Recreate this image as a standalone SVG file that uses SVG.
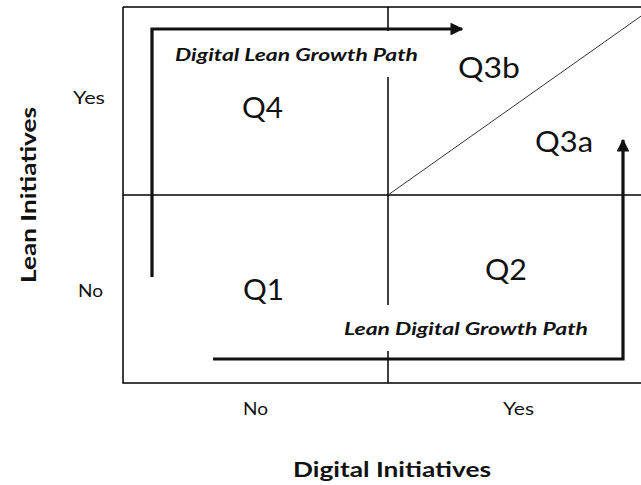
<svg xmlns="http://www.w3.org/2000/svg" width="641" height="485" viewBox="0 0 641 485">
<defs>
<style>
.ln{stroke:#000;stroke-width:1.5;fill:none}
.path{stroke:#111;stroke-width:3.2;fill:none}
.q{font-family:Lato,"Open Sans","Liberation Sans",sans-serif;font-size:29px;fill:#111}
.lab{font-family:Lato,"Open Sans","Liberation Sans",sans-serif;font-size:17px;fill:#111}
.ax{font-family:Lato,"Open Sans","Liberation Sans",sans-serif;font-size:21px;font-weight:bold;fill:#111}
.pl{font-family:Lato,"Open Sans","Liberation Sans",sans-serif;font-size:16.5px;font-weight:bold;font-style:italic;fill:#111}
</style>
<marker id="ah" viewBox="0 0 10 10" refX="9" refY="5" markerWidth="4" markerHeight="4" orient="auto" markerUnits="strokeWidth">
<path d="M0,0 L10,5 L0,10 Z" fill="#111"/>
</marker>
</defs>
<rect width="641" height="485" fill="#fff"/>
<g id="grid">
<path class="ln" d="M123,7 H645 M123,7 V383 H645"/>
<path class="ln" d="M123,195 H645"/>
<path class="ln" d="M388,7 V31 M388,77 V305 M388,351 V383"/>
<path stroke="#333" stroke-width="1" fill="none" d="M388,195 L644,14"/>
</g>
<g id="connectors">
<path class="path" d="M152,277 V29 H462" marker-end="url(#ah)"/>
<path class="path" d="M213,359 H623 V140" marker-end="url(#ah)"/>
</g>
<g id="Q4"><text class="q" x="242" y="118" textLength="41" lengthAdjust="spacingAndGlyphs">Q4</text></g>
<g id="Q3b"><text class="q" x="458" y="78" textLength="62" lengthAdjust="spacingAndGlyphs">Q3b</text></g>
<g id="Q3a"><text class="q" x="535" y="152" textLength="58" lengthAdjust="spacingAndGlyphs">Q3a</text></g>
<g id="Q2"><text class="q" x="485" y="280" textLength="42" lengthAdjust="spacingAndGlyphs">Q2</text></g>
<g id="Q1"><text class="q" x="243" y="300" textLength="41" lengthAdjust="spacingAndGlyphs">Q1</text></g>
<g id="labels">
<text class="pl" x="175" y="61" textLength="243" lengthAdjust="spacingAndGlyphs">Digital Lean Growth Path</text>
<text class="pl" x="344" y="335" textLength="244" lengthAdjust="spacingAndGlyphs">Lean Digital Growth Path</text>
<text class="lab" x="73" y="104" textLength="32" lengthAdjust="spacingAndGlyphs">Yes</text>
<text class="lab" x="78" y="297" textLength="25" lengthAdjust="spacingAndGlyphs">No</text>
<text class="lab" x="243" y="415" textLength="25" lengthAdjust="spacingAndGlyphs">No</text>
<text class="lab" x="503" y="415" textLength="31" lengthAdjust="spacingAndGlyphs">Yes</text>
<text class="ax" x="293" y="477" textLength="198" lengthAdjust="spacingAndGlyphs">Digital Initiatives</text>
<text class="ax" transform="translate(36,283) rotate(-90)" textLength="176" lengthAdjust="spacingAndGlyphs">Lean Initiatives</text>
</g>
</svg>
